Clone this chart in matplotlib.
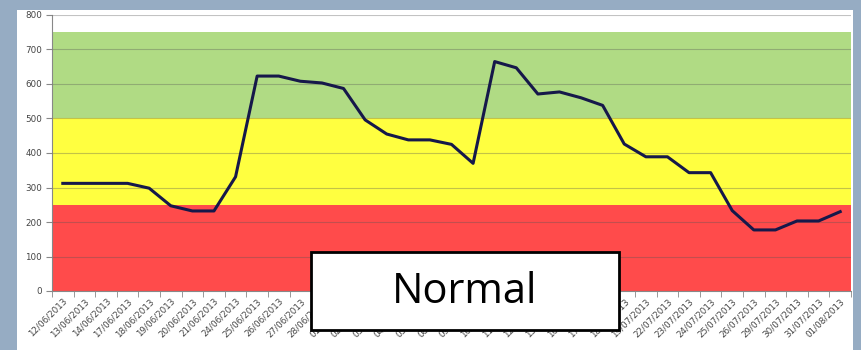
import matplotlib
matplotlib.use('Agg')
import matplotlib.pyplot as plt
from matplotlib.patches import Rectangle
import numpy as np

# dates (business days) and values
dates = ['12/06/2013', '13/06/2013', '14/06/2013', '17/06/2013', '18/06/2013',
         '19/06/2013', '20/06/2013', '21/06/2013', '24/06/2013', '25/06/2013',
         '26/06/2013', '27/06/2013', '28/06/2013', '01/07/2013', '02/07/2013',
         '03/07/2013', '04/07/2013', '05/07/2013', '08/07/2013', '09/07/2013',
         '10/07/2013', '11/07/2013', '12/07/2013', '15/07/2013', '16/07/2013',
         '17/07/2013', '18/07/2013', '19/07/2013', '22/07/2013', '23/07/2013',
         '24/07/2013', '25/07/2013', '26/07/2013', '29/07/2013', '30/07/2013',
         '31/07/2013', '01/08/2013']
values = [312, 312, 312, 312, 298, 247, 232, 232, 331, 623,
          623, 608, 603, 587, 496, 455, 438, 438, 425, 370,
          665, 647, 571, 577, 560, 538, 426, 389, 389, 343,
          343, 233, 177, 177, 203, 203, 230]

# bands: (low, high, colour)
band_lows = [0, 250, 500]
band_highs = [250, 500, 750]
band_colors = ['#ff4b4b', '#ffff40', '#b0db84']

fig = plt.figure(figsize=(8.61, 3.5), dpi=100)
fig.patch.set_facecolor('#96acc3')
# white panel behind the chart
fig.patches.append(Rectangle((17 / 861, 0), (853 - 17) / 861, 1 - 10 / 350,
                             transform=fig.transFigure, facecolor='white',
                             edgecolor='none', zorder=-1))

ax = fig.add_axes([52 / 861, 1 - 291 / 350, (851 - 52) / 861, (291 - 15) / 350])
ax.set_zorder(1)
ax.set_facecolor('none')

x = np.arange(len(dates))
for lo, hi, c in zip(band_lows, band_highs, band_colors):
    ax.axhspan(lo, hi, color=c, zorder=0, lw=0)

ax.plot(x, values, color='#16184a', lw=2.2, zorder=3)

ax.set_xlim(-0.5, len(dates) - 0.5)
ax.set_ylim(0, 800)
ax.set_yticks(range(0, 801, 100))
ax.yaxis.grid(True, color='#555555', alpha=0.35, lw=0.8, zorder=1)
ax.set_axisbelow(False)

ax.set_xticks(x)
ax.set_xticklabels(dates, rotation=45, ha='right', rotation_mode='anchor',
                   fontsize=6.3, color='#444444')
ax.set_xticks(np.arange(-0.5, len(dates), 1), minor=True)
ax.tick_params(axis='x', which='major', length=0, pad=4)
ax.tick_params(axis='x', which='minor', length=4, color='#888888')
ax.tick_params(axis='y', labelsize=6.3, labelcolor='#444444', length=4,
               color='#888888', pad=3)

for s in ['top', 'right']:
    ax.spines[s].set_visible(False)
ax.spines['left'].set_color('#888888')
ax.spines['bottom'].set_color('#888888')

# "Normal" label box
fig.patches.append(Rectangle((311 / 861, 1 - 330 / 350), (619 - 311) / 861,
                             (330 - 252) / 350, transform=fig.transFigure,
                             facecolor='white', edgecolor='black', lw=2,
                             zorder=5))
fig.text(465 / 861, 1 - 292 / 350, 'Normal', fontsize=30, family='Open Sans',
         ha='center', va='center', zorder=6)

fig.savefig('out.png', dpi=100, facecolor=fig.get_facecolor())
